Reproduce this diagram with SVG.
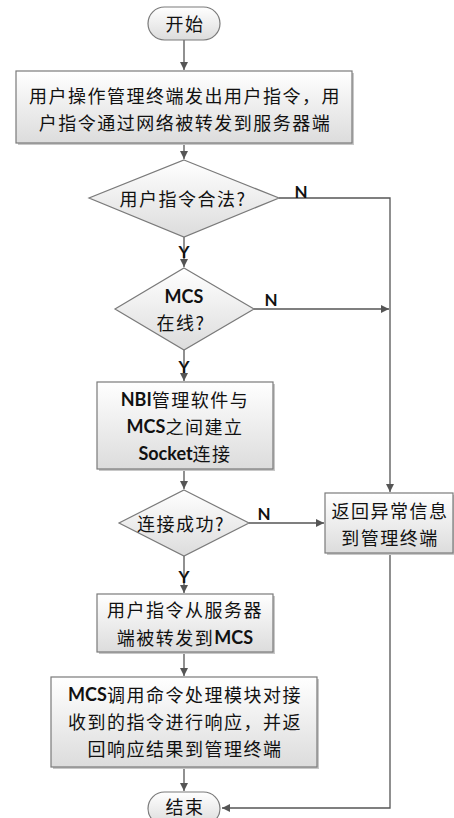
<svg xmlns="http://www.w3.org/2000/svg" width="454" height="818" viewBox="0 0 454 818">
<defs>
<linearGradient id="g" x1="0" y1="0" x2="0" y2="1">
<stop offset="0" stop-color="#ffffff"/>
<stop offset="1" stop-color="#dcdcdc"/>
</linearGradient>
<marker id="arr" viewBox="0 0 10 10" refX="10" refY="5" markerWidth="8" markerHeight="8" markerUnits="userSpaceOnUse" orient="auto">
<path d="M0,0 L10,5 L0,10 z" fill="#555"/>
</marker>
</defs>
<style>
.shape{fill:url(#g);stroke:#7a7a7a;stroke-width:1.2}
.shadow{fill:#c8c8c8;stroke:none}
.t{font-family:"Noto Sans CJK SC","Noto Sans",sans-serif;font-size:18px;letter-spacing:1.5px;fill:#111;text-anchor:middle;dominant-baseline:central}
.b{font-family:Lato,"Open Sans","Noto Sans",sans-serif;font-weight:bold;letter-spacing:0}
.lab{font-family:Lato,"Liberation Sans",sans-serif;font-weight:bold;font-size:17px;fill:#111;text-anchor:middle;dominant-baseline:central}
.c{fill:none;stroke:#555;stroke-width:1.3}
</style>
<rect width="454" height="818" fill="#fff"/>

<g id="connectors">
<path class="c" d="M184,40 V70" marker-end="url(#arr)"/>
<path class="c" d="M184,143 V159" marker-end="url(#arr)"/>
<path class="c" d="M184,237 V267" marker-end="url(#arr)"/>
<path class="c" d="M184,350 V381" marker-end="url(#arr)"/>
<path class="c" d="M184,469 V489" marker-end="url(#arr)"/>
<path class="c" d="M184,556 V593" marker-end="url(#arr)"/>
<path class="c" d="M184,652 V676" marker-end="url(#arr)"/>
<path class="c" d="M184,767 V791" marker-end="url(#arr)"/>
<path class="c" d="M279,198 H390 V492" marker-end="url(#arr)"/>
<path class="c" d="M254,309 H389" marker-end="url(#arr)"/>
<path class="c" d="M249,523 H324" marker-end="url(#arr)"/>
<path class="c" d="M390,553 V808 H222" marker-end="url(#arr)"/>
<text class="lab" x="301" y="191">N</text>
<text class="lab" x="271" y="299">N</text>
<text class="lab" x="264" y="513">N</text>
<text class="lab" x="184" y="251">Y</text>
<text class="lab" x="184" y="366">Y</text>
<text class="lab" x="184" y="576">Y</text>
</g>

<g id="start">
<rect class="shape" x="148" y="7" width="72" height="33" rx="16.5"/>
<text class="t" x="185" y="23">开始</text>
</g>

<g id="step1">
<rect class="shadow" x="18" y="73" width="336" height="72"/>
<rect class="shape" x="16" y="71" width="336" height="72"/>
<text class="t" x="185" y="95">用户操作管理终端发出用户指令，用</text>
<text class="t" x="185" y="122">户指令通过网络被转发到服务器端</text>
</g>

<g id="d1">
<polygon class="shape" points="184,160 279,198 184,237 89,198"/>
<text class="t" x="183" y="198">用户指令合法?</text>
</g>

<g id="d2">
<polygon class="shape" points="184,268 254,309 184,350 115,309"/>
<text class="t" x="184" y="296"><tspan class="b">MCS</tspan></text>
<text class="t" x="181" y="322">在线?</text>
</g>

<g id="step2">
<rect class="shadow" x="99" y="384" width="176" height="87"/>
<rect class="shape" x="97" y="382" width="176" height="87"/>
<text class="t" x="185" y="399"><tspan class="b">NBI</tspan>管理软件与</text>
<text class="t" x="185" y="426"><tspan class="b">MCS</tspan>之间建立</text>
<text class="t" x="185" y="453"><tspan class="b">Socket</tspan>连接</text>
</g>

<g id="d3">
<polygon class="shape" points="184,490 249,523 184,556 119,523"/>
<text class="t" x="181" y="523">连接成功?</text>
</g>

<g id="err">
<rect class="shadow" x="327" y="495" width="128" height="60"/>
<rect class="shape" x="325" y="493" width="128" height="60"/>
<text class="t" x="390" y="510">返回异常信息</text>
<text class="t" x="390" y="537">到管理终端</text>
</g>

<g id="step3">
<rect class="shadow" x="99" y="596" width="176" height="58"/>
<rect class="shape" x="97" y="594" width="176" height="58"/>
<text class="t" x="185" y="609">用户指令从服务器</text>
<text class="t" x="185" y="637">端被转发到<tspan class="b">MCS</tspan></text>
</g>

<g id="step4">
<rect class="shadow" x="53" y="679" width="266" height="90"/>
<rect class="shape" x="51" y="677" width="266" height="90"/>
<text class="t" x="185" y="694"><tspan class="b">MCS</tspan>调用命令处理模块对接</text>
<text class="t" x="185" y="721">收到的指令进行响应，并返</text>
<text class="t" x="185" y="748">回响应结果到管理终端</text>
</g>

<g id="end">
<rect class="shape" x="148" y="792" width="72" height="33" rx="16.5"/>
<text class="t" x="185" y="806">结束</text>
</g>
</svg>
